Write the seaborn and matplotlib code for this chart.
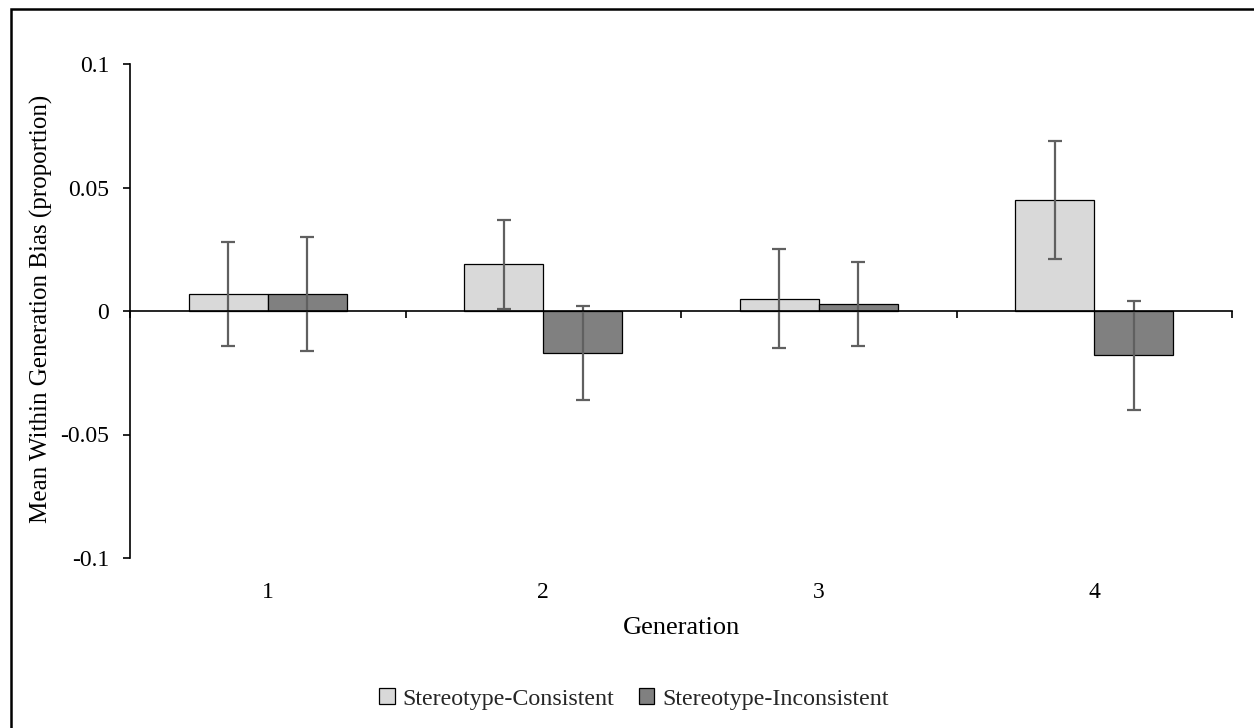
import matplotlib
matplotlib.use("Agg")
import matplotlib.pyplot as plt
import pandas as pd
import seaborn as sns
from matplotlib.patches import Rectangle

# Mean within-generation bias per generation and condition, with error half-widths
generations = ["1", "2", "3", "4"]
conditions = ["Stereotype-Consistent", "Stereotype-Inconsistent"]
consistent_mean = [0.007, 0.019, 0.005, 0.045]
consistent_err = [0.021, 0.018, 0.020, 0.024]
inconsistent_mean = [0.007, -0.017, 0.003, -0.018]
inconsistent_err = [0.023, 0.019, 0.017, 0.022]
ytick_values = [-0.1, -0.05, 0, 0.05, 0.1]
ytick_labels = ["-0.1", "-0.05", "0", "0.05", "0.1"]

sns.set_theme(style="white")
plt.rcParams["font.family"] = ["Liberation Serif", "DejaVu Serif"]
TICK_FS = 17
LABEL_FS = 18
XLABEL_FS = 19
LEGEND_FS = 17.3

df = pd.DataFrame({
    "Generation": generations * 2,
    "Condition": [conditions[0]] * 4 + [conditions[1]] * 4,
    "Bias": consistent_mean + inconsistent_mean,
})

W, H = 1254, 728
fig = plt.figure(figsize=(W / 100, H / 100), dpi=100)
ax = fig.add_axes([130 / W, 1 - 558 / H, (1232 - 130) / W, (558 - 64) / H])

sns.barplot(data=df, x="Generation", y="Bias", hue="Condition",
            order=generations, hue_order=conditions,
            palette=["#d9d9d9", "#808080"], saturation=1,
            width=0.573, errorbar=None, edgecolor="black", linewidth=0.9,
            ax=ax)

# Error bars centred on each bar
for container, errs in zip(ax.containers, [consistent_err, inconsistent_err]):
    xs = [b.get_x() + b.get_width() / 2 for b in container]
    ys = [b.get_height() for b in container]
    ax.errorbar(xs, ys, yerr=errs, fmt="none", ecolor="#606060",
                elinewidth=1.6, capsize=4.7, capthick=1.6, zorder=5)

handles, labels = ax.get_legend_handles_labels()
ax.get_legend().remove()

ax.set_xlim(-0.5, 3.5)
ax.set_ylim(-0.1, 0.1)
ax.set_yticks(ytick_values)
ax.set_yticklabels(ytick_labels, fontsize=TICK_FS)
ax.set_xticks([-0.5, 0.5, 1.5, 2.5, 3.5])
ax.set_xticklabels([])
ax.set_xlabel("")
ax.set_ylabel("")

for side in ("top", "right"):
    ax.spines[side].set_visible(False)
ax.spines["bottom"].set_position(("data", 0))
ax.spines["bottom"].set_zorder(6)
for side in ("left", "bottom"):
    ax.spines[side].set_color("black")
    ax.spines[side].set_linewidth(1.2)
ax.tick_params(axis="x", bottom=True, direction="out", length=5, width=1.2, color="black")
ax.tick_params(axis="y", left=True, direction="out", length=5, width=1.2, color="black",
               pad=10, labelcolor="black")

# Category labels below the plotting area
for i, g in enumerate(generations):
    ax.text(i, -35 / 494, g, transform=ax.get_xaxis_transform(),
            ha="center", va="center", fontsize=TICK_FS, color="black")
ax.text(0.5, -70 / 494, "Generation", transform=ax.transAxes,
        ha="center", va="center", fontsize=XLABEL_FS, color="black")
ax.text(-89 / 1102, 0.505, "Mean Within Generation Bias (proportion)",
        transform=ax.transAxes, rotation=90, ha="center", va="center",
        fontsize=LABEL_FS, color="black")

fig.legend(handles, labels, loc="center", bbox_to_anchor=(634 / W, 1 - 699 / H),
           ncol=2, frameon=False, fontsize=LEGEND_FS, handlelength=0.66,
           handleheight=0.66, handletextpad=0.33, columnspacing=1.0)

# Chart frame
fig.add_artist(Rectangle((11 / W, -0.05), 1.2, 1 - 9 / H + 0.05,
                         transform=fig.transFigure, fill=False,
                         edgecolor="black", linewidth=1.8))

fig.savefig("out.png", dpi=100)
